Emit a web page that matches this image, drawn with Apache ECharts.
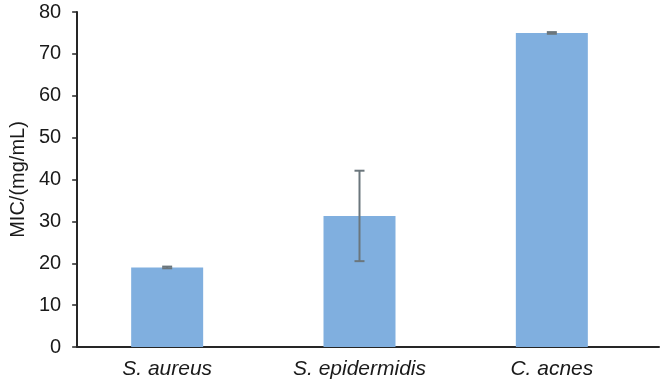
<!DOCTYPE html>
<html>
<head>
<meta charset="utf-8">
<script src="https://cdn.jsdelivr.net/npm/echarts@6/dist/echarts.min.js"></script>
<style>
  html, body { margin: 0; padding: 0; background: #fff; }
  #grafico { width: 662px; height: 387px; }
</style>
</head>
<body>
<div id="grafico"></div>
<script>
// Datos
const categorias = ['S. aureus', 'S. epidermidis', 'C. acnes'];
const valoresMIC = [19.0, 31.3, 75.0];
const erroresMIC = [0.2, 10.8, 0.2];
const ticksY = [0, 10, 20, 30, 40, 50, 60, 70, 80];

const fuente = 'Liberation Sans, Arial, sans-serif';

let grafico = echarts.init(document.getElementById('grafico'));

// Barras de error dibujadas con una serie custom
function dibujarError(params, api) {
    const i = api.value(0);
    const alto = api.coord([i, api.value(1)]);
    const bajo = api.coord([i, api.value(2)]);
    const cap = 5;
    const estilo = { stroke: '#6b767c', lineWidth: 2 };
    return {
        type: 'group',
        children: [
            { type: 'line', shape: { x1: alto[0], y1: alto[1], x2: bajo[0], y2: bajo[1] }, style: estilo },
            { type: 'line', shape: { x1: alto[0] - cap, y1: alto[1], x2: alto[0] + cap, y2: alto[1] }, style: estilo },
            { type: 'line', shape: { x1: bajo[0] - cap, y1: bajo[1], x2: bajo[0] + cap, y2: bajo[1] }, style: estilo }
        ]
    };
}

grafico.setOption({
    animation: false,
    textStyle: { fontFamily: fuente },
    grid: [
        // rejilla de las barras
        { left: 71, right: 14, top: 12, bottom: 40 },
        // rejilla de los ejes visibles
        { left: 73, right: 3, top: 12, bottom: 40 }
    ],
    xAxis: [
        {
            type: 'category',
            gridIndex: 0,
            data: categorias,
            axisLine: { show: false },
            axisTick: { show: false },
            axisLabel: { color: '#1a1a1a', fontSize: 21, fontStyle: 'italic', margin: 12, fontFamily: fuente }
        },
        {
            type: 'value',
            gridIndex: 1,
            min: 0, max: 1,
            axisLine: { show: true, lineStyle: { color: '#262626', width: 2 } },
            axisTick: { show: false },
            axisLabel: { show: false },
            splitLine: { show: false }
        }
    ],
    yAxis: [
        {
            type: 'value',
            gridIndex: 0,
            min: ticksY[0],
            max: ticksY[ticksY.length - 1],
            interval: 10,
            show: false
        },
        {
            type: 'value',
            gridIndex: 1,
            min: ticksY[0],
            max: ticksY[ticksY.length - 1],
            interval: 10,
            name: 'MIC/(mg/mL)',
            nameLocation: 'middle',
            nameGap: 49,
            nameTextStyle: { color: '#1a1a1a', fontSize: 20, fontFamily: fuente },
            axisLine: { show: true, lineStyle: { color: '#262626', width: 2 } },
            axisTick: { show: true, length: 5, lineStyle: { color: '#262626', width: 1.5 } },
            axisLabel: { color: '#1a1a1a', fontSize: 20, margin: 16, fontFamily: fuente },
            splitLine: { show: false }
        }
    ],
    series: [
        {
            name: 'MIC',
            type: 'bar',
            xAxisIndex: 0,
            yAxisIndex: 0,
            data: valoresMIC,
            barWidth: 72,
            itemStyle: { color: '#80afdf' }
        },
        {
            name: 'Error',
            type: 'custom',
            xAxisIndex: 0,
            yAxisIndex: 0,
            renderItem: dibujarError,
            data: valoresMIC.map((v, i) => [i, v + erroresMIC[i], v - erroresMIC[i]]),
            z: 5
        }
    ]
});
</script>
</body>
</html>
